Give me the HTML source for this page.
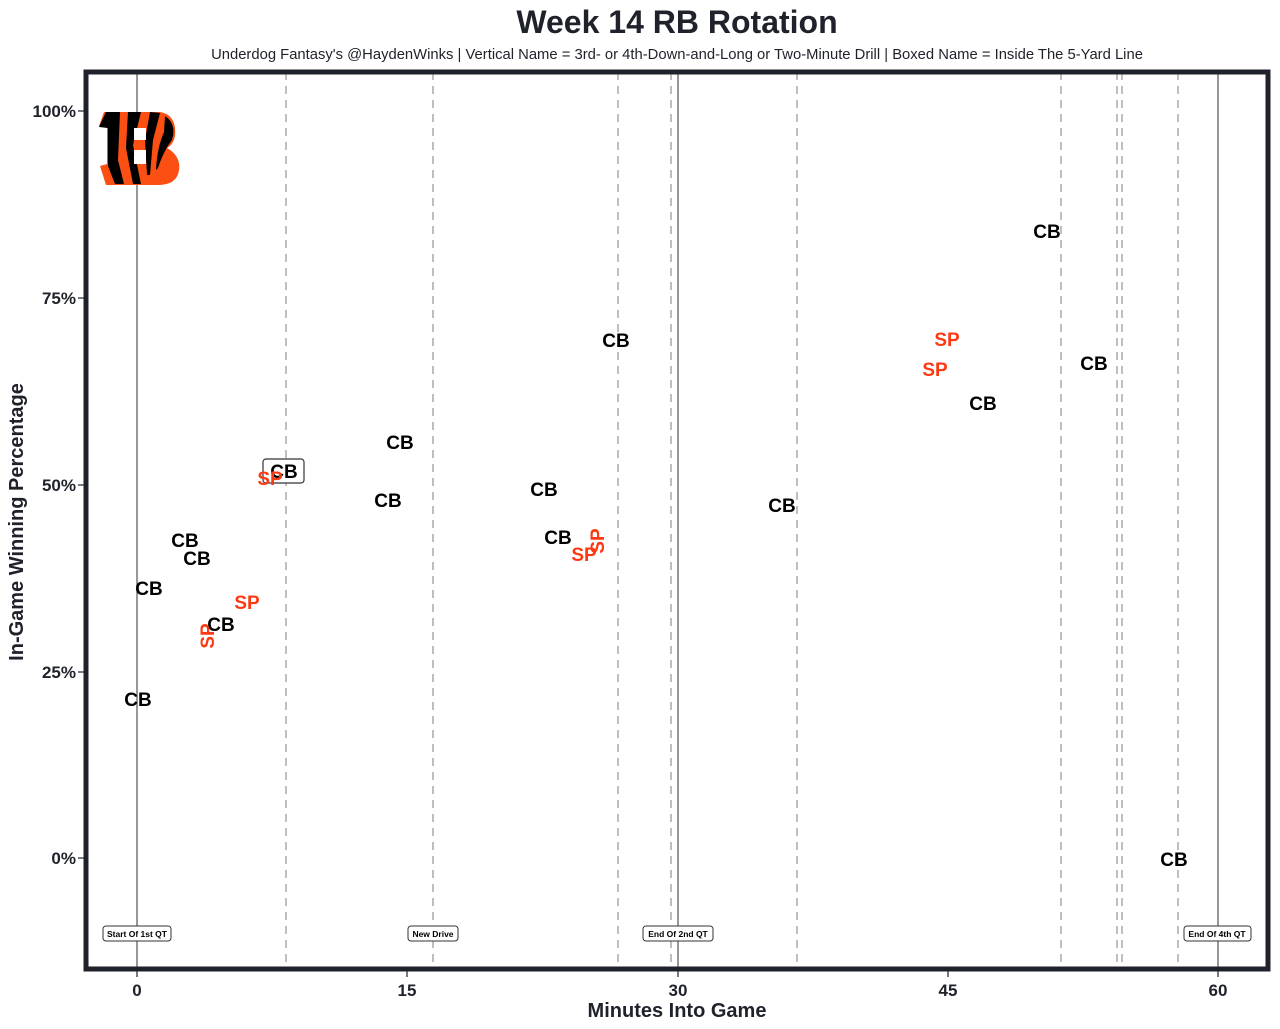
<!DOCTYPE html>
<html><head><meta charset="utf-8"><style>
html,body{margin:0;padding:0;background:#fff;}
svg{display:block;font-family:"Liberation Sans",Arial,sans-serif;}
</style></head><body>
<svg width="1280" height="1029" viewBox="0 0 1280 1029" xmlns="http://www.w3.org/2000/svg">
<rect width="1280" height="1029" fill="#fff"/>
<text x="677" y="33" text-anchor="middle" font-size="32" font-weight="bold" fill="#1f222b">Week 14 RB Rotation</text>
<text x="677" y="59" text-anchor="middle" font-size="14.8" fill="#1f222b">Underdog Fantasy's @HaydenWinks | Vertical Name = 3rd- or 4th-Down-and-Long or Two-Minute Drill | Boxed Name = Inside The 5-Yard Line</text>

<g stroke="#aaaaaa" stroke-width="1.5" stroke-dasharray="8,6">
<line x1="286" y1="72" x2="286" y2="968"/>
<line x1="433" y1="72" x2="433" y2="968"/>
<line x1="618" y1="72" x2="618" y2="968"/>
<line x1="671" y1="72" x2="671" y2="968"/>
<line x1="797" y1="72" x2="797" y2="968"/>
<line x1="1061" y1="72" x2="1061" y2="968"/>
<line x1="1117" y1="72" x2="1117" y2="968"/>
<line x1="1122" y1="72" x2="1122" y2="968"/>
<line x1="1178" y1="72" x2="1178" y2="968"/>
</g>
<g stroke="#777" stroke-width="1.5">
<line x1="137" y1="72" x2="137" y2="968"/>
<line x1="678" y1="72" x2="678" y2="968"/>
<line x1="1218" y1="72" x2="1218" y2="968"/>
</g>

<!-- logo -->
<g>
<path d="M104,112 L160,112 Q177,115 175,136 Q173,145 167,148 Q181,156 179,170 Q177,185 158,185 L106,185 L100,166 L107,164 L107,128 L99,126 Z" fill="#fb4f14"/>
<path d="M106,112 L120,112 L118,160 L124,184 L115,184 L108,166 L108,128 L99,127 Z" fill="#000"/>
<path d="M128,112 L141,112 L133,145 L141,184 L133,184 L126,148 Z" fill="#000"/>
<path d="M150,112 L160,113 L153,140 L150,175 L147,175 L145,140 Z" fill="#000"/>
<path d="M165,116 Q177,124 172,140 Q164,150 158,168 L156,170 Q157,148 164,132 Z" fill="#000"/>
<rect x="134" y="128" width="12" height="12" fill="#fff"/>
<rect x="134" y="150" width="12" height="14" fill="#fff"/>
</g>

<rect x="86" y="72" width="1182" height="897" fill="none" stroke="#1f222b" stroke-width="5"/>

<g stroke="#1f222b" stroke-width="1.2">
<line x1="78" y1="111" x2="84" y2="111"/><line x1="78" y1="298" x2="84" y2="298"/>
<line x1="78" y1="485" x2="84" y2="485"/><line x1="78" y1="672" x2="84" y2="672"/>
<line x1="78" y1="858" x2="84" y2="858"/>
<line x1="137" y1="971" x2="137" y2="977"/><line x1="407" y1="971" x2="407" y2="977"/>
<line x1="678" y1="971" x2="678" y2="977"/><line x1="948" y1="971" x2="948" y2="977"/>
<line x1="1218" y1="971" x2="1218" y2="977"/>
</g>
<g font-size="17" font-weight="bold" fill="#1f222b" text-anchor="end">
<text x="76" y="117">100%</text><text x="76" y="304">75%</text><text x="76" y="491">50%</text>
<text x="76" y="678">25%</text><text x="76" y="864">0%</text>
</g>
<g font-size="17" font-weight="bold" fill="#1f222b" text-anchor="middle">
<text x="137" y="996">0</text><text x="407" y="996">15</text><text x="678" y="996">30</text>
<text x="948" y="996">45</text><text x="1218" y="996">60</text>
</g>
<text x="677" y="1017" text-anchor="middle" font-size="20" font-weight="bold" fill="#1f222b">Minutes Into Game</text>
<text transform="translate(23,522) rotate(-90)" text-anchor="middle" font-size="20" font-weight="bold" fill="#1f222b">In-Game Winning Percentage</text>

<g font-size="8.5" font-weight="bold" fill="#000" text-anchor="middle">
<rect x="103" y="926" width="68" height="15" rx="3" fill="#fff" stroke="#333"/><text x="137" y="937">Start Of 1st QT</text>
<rect x="408" y="926" width="50" height="15" rx="3" fill="#fff" stroke="#333"/><text x="433" y="937">New Drive</text>
<rect x="643" y="926" width="70" height="15" rx="3" fill="#fff" stroke="#333"/><text x="678" y="937">End Of 2nd QT</text>
<rect x="1184" y="926" width="67" height="15" rx="3" fill="#fff" stroke="#333"/><text x="1217" y="937">End Of 4th QT</text>
</g>

<rect x="263" y="459" width="41" height="24" rx="3" fill="#fff" stroke="#333" stroke-width="1.2"/>
<g font-size="19" font-weight="bold" text-anchor="middle">
<g fill="#000">
<text x="138" y="706">CB</text><text x="149" y="595">CB</text><text x="185" y="547">CB</text>
<text x="197" y="565">CB</text><text x="221" y="631">CB</text><text x="284" y="478">CB</text>
<text x="400" y="449">CB</text><text x="388" y="507">CB</text><text x="544" y="496">CB</text>
<text x="558" y="544">CB</text><text x="616" y="347">CB</text><text x="782" y="512">CB</text>
<text x="983" y="410">CB</text><text x="1047" y="238">CB</text><text x="1094" y="370">CB</text>
<text x="1174" y="866">CB</text>
</g>
<g fill="#fb3a14">
<text x="247" y="609">SP</text><text x="270" y="485">SP</text><text x="584" y="561">SP</text>
<text x="947" y="346">SP</text><text x="935" y="376">SP</text>
<text transform="translate(214,636) rotate(-90)">SP</text>
<text transform="translate(604,541) rotate(-90)">SP</text>
</g>
</g>
</svg>
</body></html>
